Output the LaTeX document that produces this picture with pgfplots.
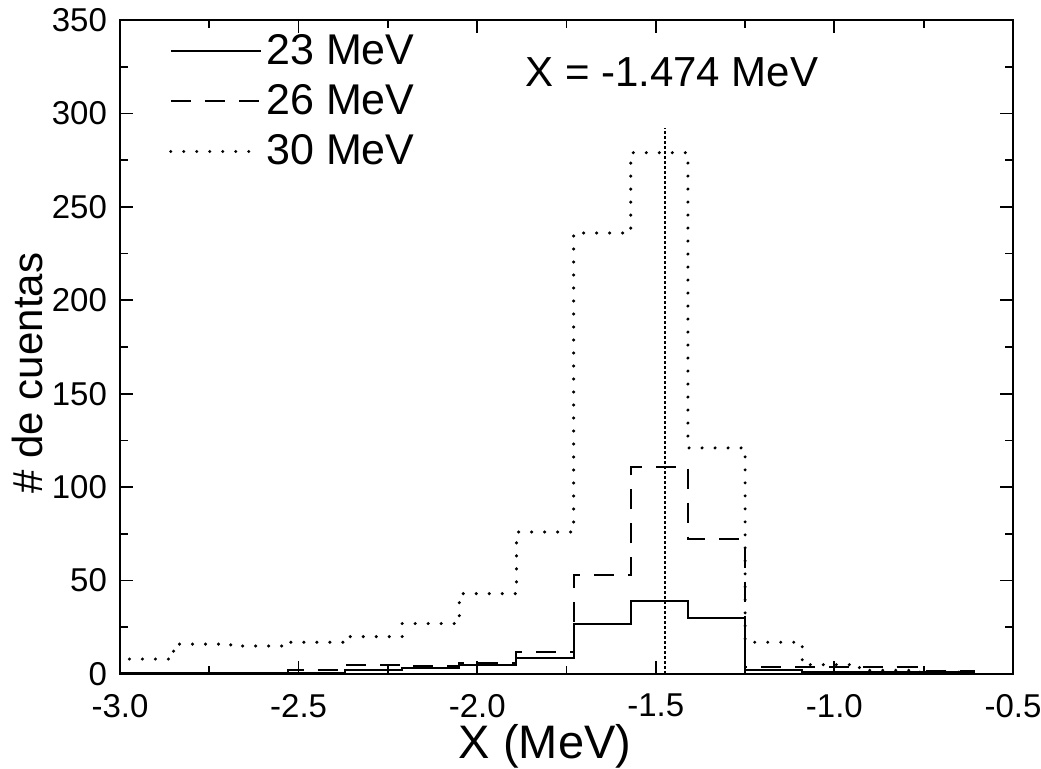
\documentclass[border=0pt]{standalone}
\usepackage{pgfplots}
\pgfplotsset{compat=1.18}
\usepackage{fontspec}
\setmainfont{Liberation Sans}

\newcommand{\tickfont}{\fontsize{16.5}{18}\selectfont}
\newcommand{\legfont}{\fontsize{21.5}{24}\selectfont}

% histogram bins: left edges, width 0.16 MeV
\begin{document}
\begin{tikzpicture}
\useasboundingbox (-60pt,-47.5pt) rectangle (460.5pt,337pt);
\begin{axis}[
    at={(0pt,0pt)}, anchor=south west,
    scale only axis,
    width=446.5pt, height=327pt,
    xmin=-3, xmax=-0.5, ymin=0, ymax=350,
    xtick={-3,-2.5,...,-0.5},
    ytick={0,50,...,350},
    minor x tick num=1,
    minor y tick num=1,
    tick align=inside,
    ticks=both,
    major tick length=6.5pt,
    minor tick length=4pt,
    every tick/.style={black, line width=0.9pt},
    axis line style={line width=1.2pt},
    xticklabel={\tickfont\pgfmathprintnumber[fixed,fixed zerofill,precision=1]{\tick}},
    yticklabel={\tickfont\pgfmathprintnumber{\tick}},
    xticklabel style={yshift=-6.5pt},
    yticklabel style={xshift=-3pt},
    /pgf/number format/assume math mode=true,
    xlabel={X (MeV)},
    ylabel={\# de cuentas},
    xlabel style={at={(axis description cs:0.476,-0.1105)}, anchor=center,
        font=\fontsize{23.5}{26}\selectfont},
    ylabel style={at={(axis description cs:-0.104,0.46)}, anchor=center,
        font=\fontsize{21}{24}\selectfont},
    legend style={at={(axis description cs:0.05,0.99)}, anchor=north west,
        draw=none, fill=none, row sep=4.5pt, inner sep=2pt},
    legend cell align=left,
    legend image code/.code={\draw[#1] (0pt,0pt) -- (45pt,0pt);},
]

% 23 MeV
\addplot[const plot mark left, black, line width=1pt] coordinates {
    (-3.01,0.5) (-2.85,0.5) (-2.69,0.5) (-2.53,0.5) (-2.37,2) (-2.21,3)
    (-2.05,5) (-1.89,8.5) (-1.73,27) (-1.57,39) (-1.41,30) (-1.25,2)
    (-1.09,1) (-0.93,1) (-0.77,1) (-0.61,1) (-0.61,0)
};

% 26 MeV
\addplot[const plot mark left, black, line width=1pt, dash pattern=on 10pt off 7pt] coordinates {
    (-3.01,0.5) (-2.85,0.5) (-2.69,0.5) (-2.53,2) (-2.37,5) (-2.21,4.5)
    (-2.05,6) (-1.89,11.5) (-1.73,53) (-1.57,111) (-1.41,72) (-1.25,3.6)
    (-1.09,3.6) (-0.93,4) (-0.77,1.5) (-0.61,1.5) (-0.61,0)
};

% 30 MeV
\addplot[const plot mark left, black, line width=1.7pt, line cap=round, dash pattern=on 0pt off 6.5pt] coordinates {
    (-3.01,8) (-2.85,16) (-2.69,15) (-2.53,17) (-2.37,20) (-2.21,27)
    (-2.05,43) (-1.89,76) (-1.73,236) (-1.57,279) (-1.41,121) (-1.25,17)
    (-1.09,5) (-0.93,2) (-0.77,1) (-0.61,1) (-0.61,0)
};

\legend{\legfont 23 MeV, \legfont 26 MeV, \legfont 30 MeV}

% marker at X = -1.474
\addplot[black, line width=0.6pt, dash pattern=on 1.5pt off 1pt, forget plot] coordinates {
    (-1.474,0) (-1.474,292)
};
\node[font=\fontsize{21}{24}\selectfont] at (axis cs:-1.455,322) {X = -1.474 MeV};

\end{axis}
\end{tikzpicture}
\end{document}
